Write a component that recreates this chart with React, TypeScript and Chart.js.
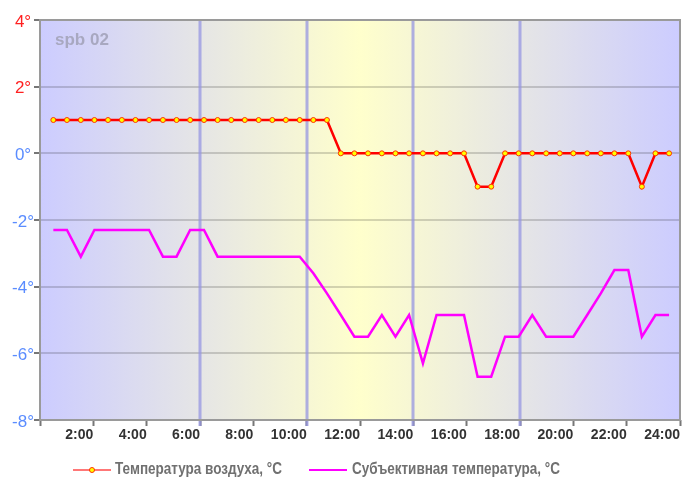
import { useEffect, useRef } from 'react';
import { Chart, registerables } from 'chart.js';

Chart.register(...registerables);

// Observation times (hours of the day)
const hours = [
  0.5, 1.01, 1.53, 2.04, 2.55, 3.07, 3.58, 4.09, 4.61, 5.12,
  5.63, 6.15, 6.66, 7.17, 7.68, 8.2, 8.71, 9.22, 9.74, 10.25,
  10.76, 11.28, 11.79, 12.3, 12.82, 13.33, 13.84, 14.36, 14.87, 15.38,
  15.9, 16.41, 16.92, 17.44, 17.95, 18.46, 18.98, 19.49, 20.0, 20.52,
  21.03, 21.54, 22.06, 22.57, 23.08, 23.59,
];

// Air temperature, °C
const airTemp = [
  1, 1, 1, 1, 1, 1, 1, 1, 1, 1,
  1, 1, 1, 1, 1, 1, 1, 1, 1, 1,
  1, 0, 0, 0, 0, 0, 0, 0, 0, 0,
  0, -1, -1, 0, 0, 0, 0, 0, 0, 0,
  0, 0, 0, -1, 0, 0,
];

// Subjective (feels-like) temperature, °C
const feelsTemp = [
  -2.3, -2.3, -3.1, -2.3, -2.3, -2.3, -2.3, -2.3, -3.1, -3.1,
  -2.3, -2.3, -3.1, -3.1, -3.1, -3.1, -3.1, -3.1, -3.1, -3.6,
  -4.2, -4.85, -5.5, -5.5, -4.85, -5.5, -4.85, -6.3, -4.85, -4.85,
  -4.85, -6.7, -6.7, -5.5, -5.5, -4.85, -5.5, -5.5, -5.5, -4.85,
  -4.2, -3.5, -3.5, -5.5, -4.85, -4.85,
];

const markerHours = [6, 10, 14, 18];
const stationLabel = 'spb 02';
const seriesNames = ['Температура воздуха, °C', 'Субъективная температура, °C'];

function narrowText(ctx: any, text: string, x: number, y: number, scaleX: number) {
  ctx.save();
  ctx.translate(x, y);
  ctx.scale(scaleX, 1);
  ctx.fillText(text, 0, 0);
  ctx.restore();
}

const decorPlugin = {
  id: 'decor',
  beforeDraw(chart: any) {
    const { ctx, chartArea } = chart;
    const { left, right, top, bottom } = chartArea;
    const g = ctx.createLinearGradient(left, 0, right, 0);
    g.addColorStop(0, '#ccccff');
    g.addColorStop(0.5, '#ffffcc');
    g.addColorStop(1, '#ccccff');
    ctx.save();
    ctx.fillStyle = g;
    ctx.fillRect(left, top, right - left, bottom - top);
    ctx.restore();
  },
  beforeDatasetsDraw(chart: any) {
    const { ctx, chartArea, scales } = chart;
    const { top, bottom, left } = chartArea;
    ctx.save();
    ctx.strokeStyle = 'rgba(150,150,225,0.75)';
    ctx.lineWidth = 3;
    markerHours.forEach((h) => {
      const x = Math.round(scales.x.getPixelForValue(h));
      ctx.beginPath();
      ctx.moveTo(x, top);
      ctx.lineTo(x, bottom + 6);
      ctx.stroke();
    });
    ctx.fillStyle = 'rgba(168,168,192,1)';
    ctx.font = 'bold 17px "Liberation Sans", Arial, sans-serif';
    ctx.textAlign = 'left';
    ctx.textBaseline = 'alphabetic';
    ctx.fillText(stationLabel, left + 15, 45);
    ctx.restore();
  },
  afterDraw(chart: any) {
    const { ctx, chartArea } = chart;
    const { left, right, top, bottom } = chartArea;
    ctx.save();
    ctx.strokeStyle = '#9a9a9a';
    ctx.lineWidth = 2;
    ctx.strokeRect(left, top, right - left, bottom - top);

    // legend
    const ly = 470;
    ctx.font = 'bold 16px "Liberation Sans", Arial, sans-serif';
    ctx.textBaseline = 'middle';
    ctx.textAlign = 'left';
    // item 1
    ctx.strokeStyle = '#ff7777';
    ctx.lineWidth = 2;
    ctx.beginPath();
    ctx.moveTo(73, ly);
    ctx.lineTo(111, ly);
    ctx.stroke();
    ctx.beginPath();
    ctx.arc(92, ly, 2.5, 0, Math.PI * 2);
    ctx.fillStyle = '#ffff00';
    ctx.fill();
    ctx.strokeStyle = '#ff3300';
    ctx.lineWidth = 1;
    ctx.stroke();
    ctx.fillStyle = '#707070';
    const w1 = ctx.measureText(seriesNames[0]).width;
    narrowText(ctx, seriesNames[0], 115, ly, 167 / w1);
    // item 2
    ctx.strokeStyle = '#ff00ff';
    ctx.lineWidth = 2;
    ctx.beginPath();
    ctx.moveTo(309, ly);
    ctx.lineTo(347, ly);
    ctx.stroke();
    ctx.fillStyle = '#707070';
    narrowText(ctx, seriesNames[1], 352, ly, 167 / w1);
    ctx.restore();
  },
};

export default function App() {
  const ref = useRef<HTMLCanvasElement>(null);
  useEffect(() => {
    document.body.style.margin = '0';
    const canvas = ref.current;
    if (!canvas) return;
    const chart = new Chart(canvas, {
      type: 'line',
      data: {
        datasets: [
          {
            label: seriesNames[0],
            data: hours.map((h, i) => ({ x: h, y: airTemp[i] })),
            borderColor: '#ff0000',
            borderWidth: 2.5,
            pointRadius: 2.5,
            pointBorderWidth: 1,
            pointBackgroundColor: '#ffff00',
            pointBorderColor: '#ff3300',
            tension: 0,
          },
          {
            label: seriesNames[1],
            data: hours.map((h, i) => ({ x: h, y: feelsTemp[i] })),
            borderColor: '#ff00ff',
            borderWidth: 2.5,
            pointRadius: 0,
            tension: 0,
          },
        ],
      },
      options: {
        animation: false,
        responsive: false,
        maintainAspectRatio: false,
        layout: { padding: { left: 0, right: 7, top: 20, bottom: 0 } },
        plugins: {
          legend: { display: false },
          tooltip: { enabled: false },
        },
        scales: {
          x: {
            type: 'linear',
            min: 0,
            max: 24,
            afterFit: (s: any) => { s.height = 67; },
            ticks: {
              stepSize: 2,
              align: 'end',
              padding: 1,
              maxRotation: 0,
              autoSkip: false,
              color: '#333333',
              font: { family: '"Liberation Sans", Arial, sans-serif', size: 14, weight: 'bold' },
              callback: (v: any) => (v === 0 ? '' : `${v}:00`),
            },
            grid: {
              drawOnChartArea: false,
              drawTicks: true,
              tickLength: 6,
              tickColor: '#777777',
              tickWidth: 2,
            },
            border: { display: false },
          },
          y: {
            min: -8,
            max: 4,
            afterFit: (s: any) => { s.width = 40; },
            ticks: {
              stepSize: 2,
              padding: 0,
              crossAlign: 'center',
              labelOffset: 2,
              color: (c: any) => (c.tick && c.tick.value > 0 ? '#ff2020' : '#5a8cff'),
              font: { family: '"Liberation Sans", Arial, sans-serif', size: 17 },
              callback: (v: any) => `${v}°`,
            },
            grid: {
              color: 'rgba(0,0,0,0.16)',
              lineWidth: 2,
              drawTicks: true,
              tickLength: 6,
              tickColor: '#777777',
              tickWidth: 2,
            },
            border: { display: false },
          },
        },
      },
      plugins: [decorPlugin],
    });
    return () => chart.destroy();
  }, []);
  return (
    <div style={{ width: 687, height: 487 }}>
      <canvas ref={ref} width={687} height={487} style={{ display: 'block' }} />
    </div>
  );
}
